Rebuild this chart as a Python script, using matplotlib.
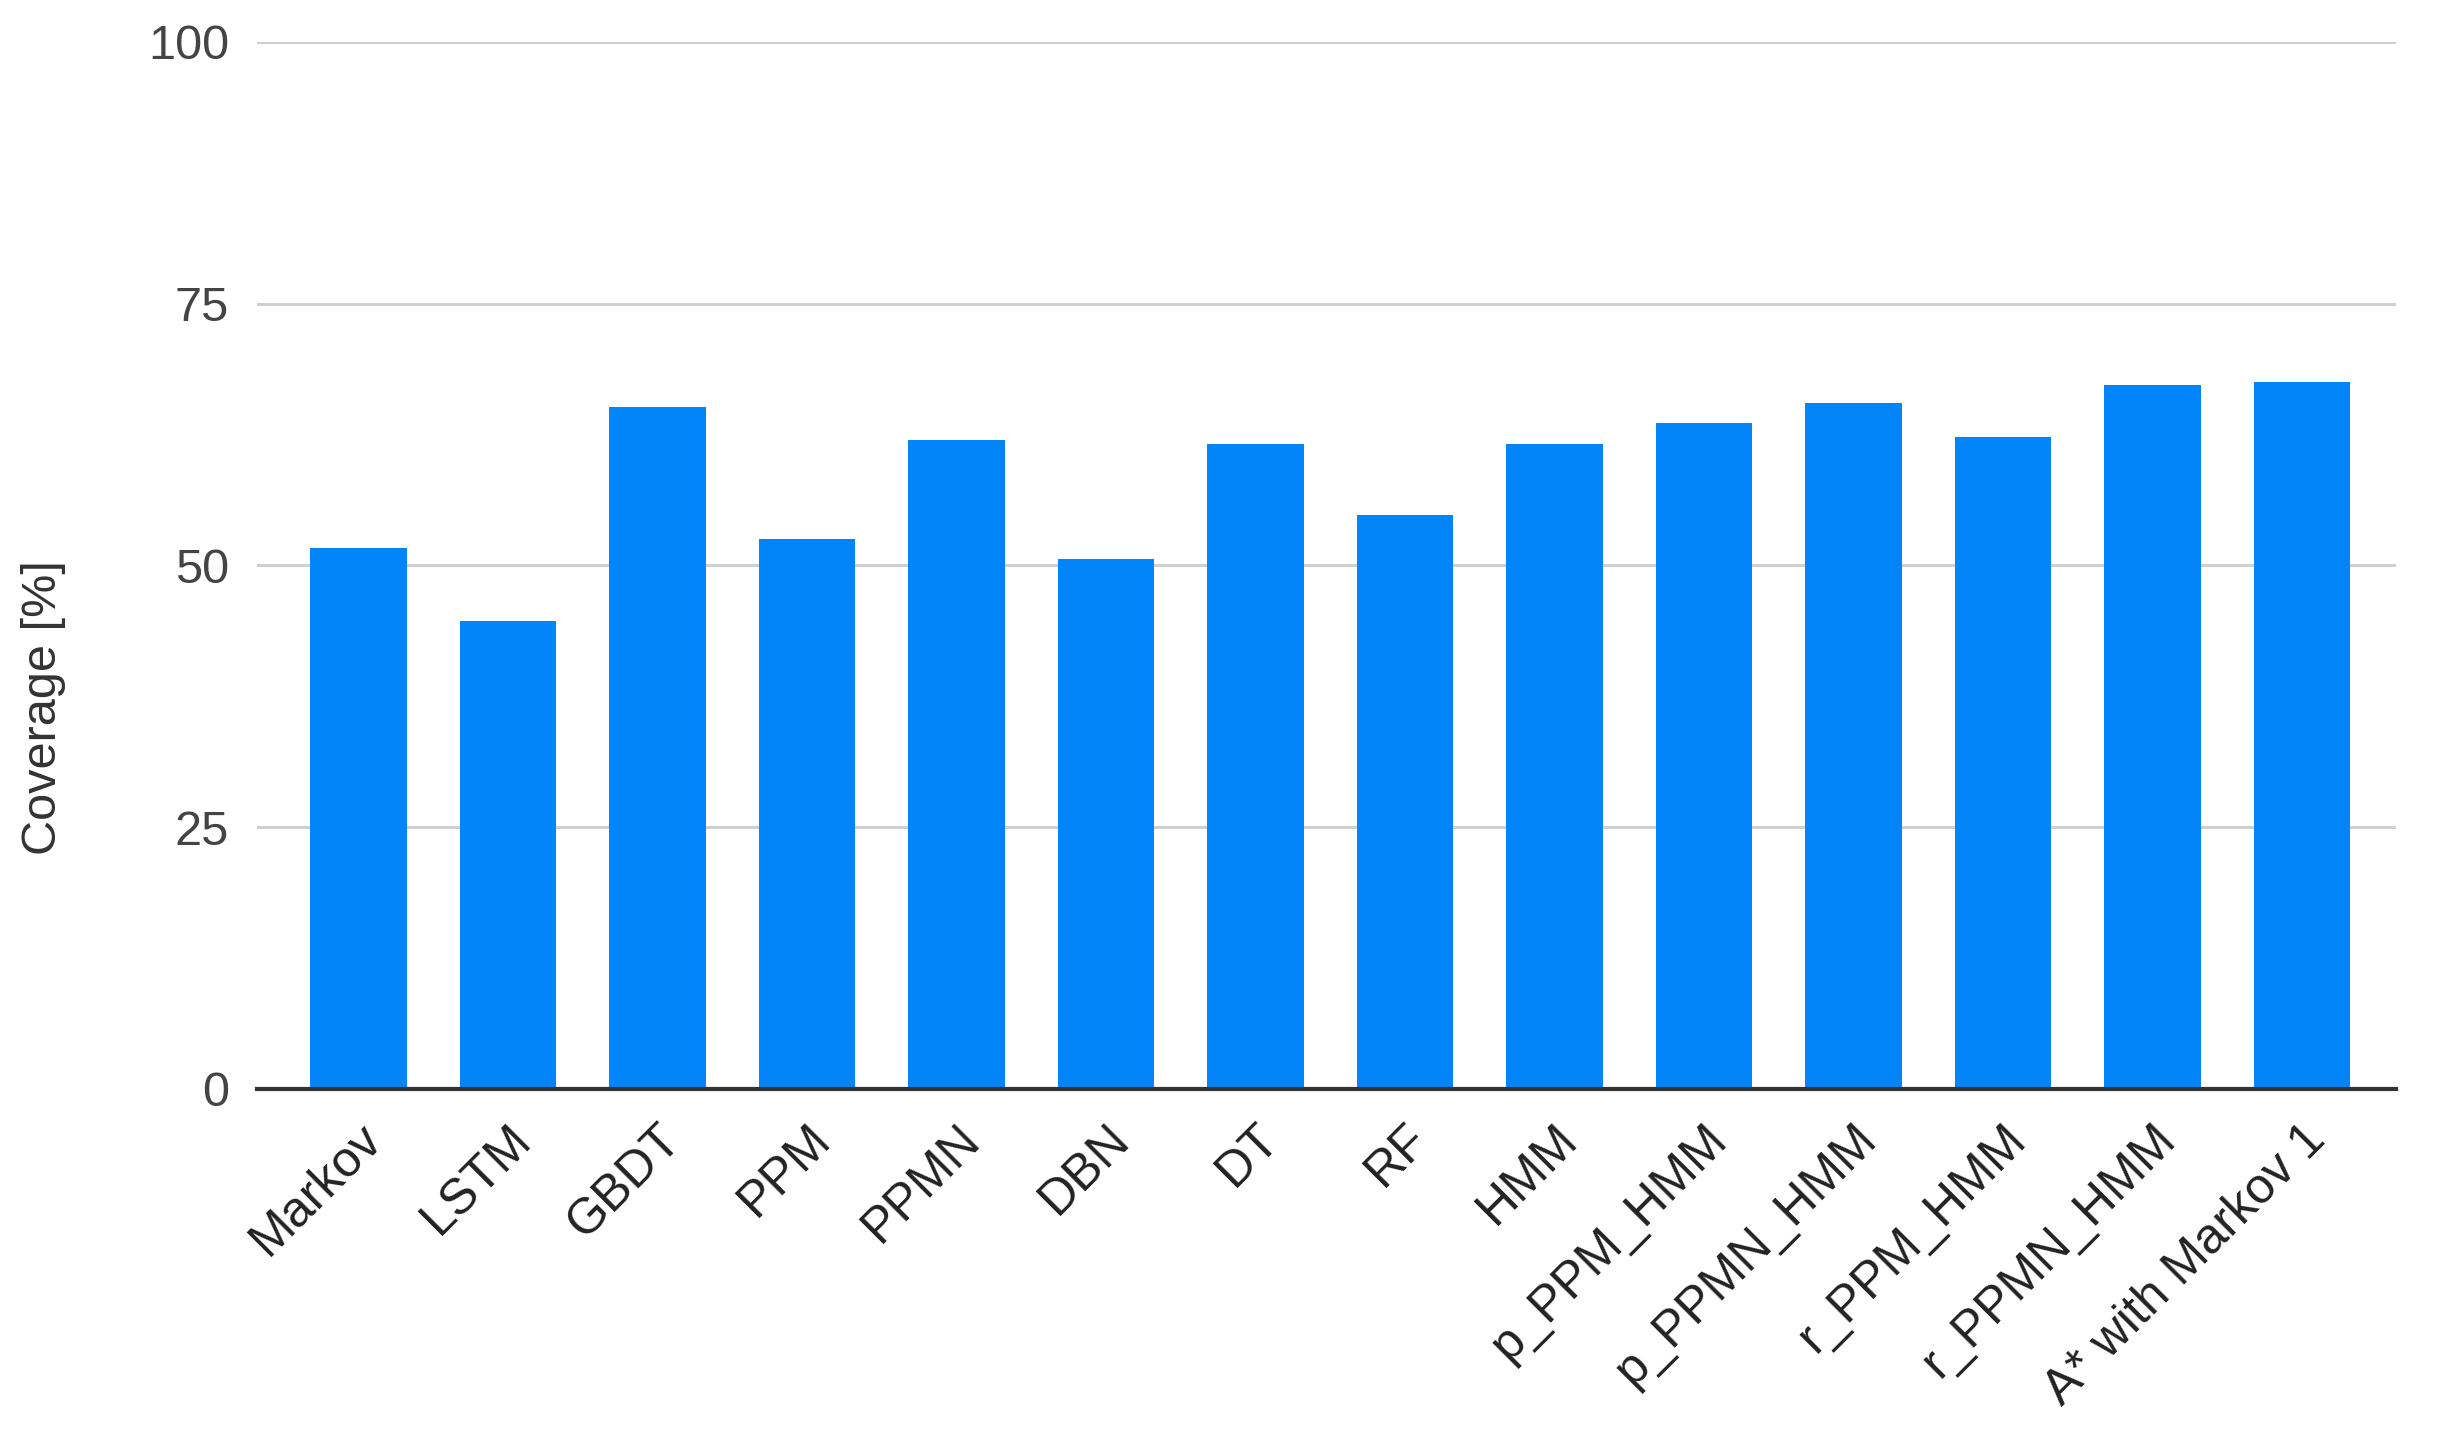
import matplotlib
matplotlib.use("Agg")
import matplotlib.pyplot as plt
from matplotlib.transforms import ScaledTranslation

# coverage per model
models = ["Markov", "LSTM", "GBDT", "PPM", "PPMN", "DBN", "DT", "RF", "HMM",
          "p_PPM_HMM", "p_PPMN_HMM", "r_PPM_HMM", "r_PPMN_HMM", "A* with Markov 1"]
coverage = [51.7, 44.7, 65.1, 52.5, 62.0, 50.6, 61.6, 54.8, 61.6,
            63.6, 65.5, 62.3, 67.2, 67.5]
yticks = [0, 25, 50, 75, 100]

plt.rcParams['font.family'] = ['Liberation Sans', 'DejaVu Sans']

W, H = 2439, 1430
fig = plt.figure(figsize=(W / 100, H / 100), dpi=100)
ax = fig.add_axes([257 / W, 1 - 1089 / H, (2396 - 257) / W, (1089 - 42) / H])

x = list(range(len(models)))
ax.bar(x, coverage, width=0.645, color="#0285f8", zorder=3)

ax.set_ylim(0, 100)
ax.set_xlim(-0.68, len(models) - 1 + 0.63)
ax.set_yticks(yticks)
ax.set_yticklabels([str(v) for v in yticks], fontsize=35, color="#444444")
ax.grid(axis="y", color="#d0d0d0", linewidth=2.2, zorder=0)
ax.tick_params(axis="both", length=0)
ax.tick_params(axis="y", pad=20)

ax.set_xticks(x)
ax.set_xticklabels(models, rotation=45, ha="right", rotation_mode="anchor",
                   fontsize=36, color="#222222")
for lab in ax.get_xticklabels():
    lab.set_transform(lab.get_transform() + ScaledTranslation(0.0, -0.22, fig.dpi_scale_trans))

for s in ["top", "right", "left"]:
    ax.spines[s].set_visible(False)
ax.spines["bottom"].set_color("#333333")
ax.spines["bottom"].set_linewidth(3)
ax.spines["bottom"].set_zorder(4)

fig.text(44 / W, 1 - 708 / H, "Coverage [%]", rotation=90, fontsize=35,
         color="#333333", ha="center", va="center")

fig.savefig("out.png", dpi=100, facecolor="white")
